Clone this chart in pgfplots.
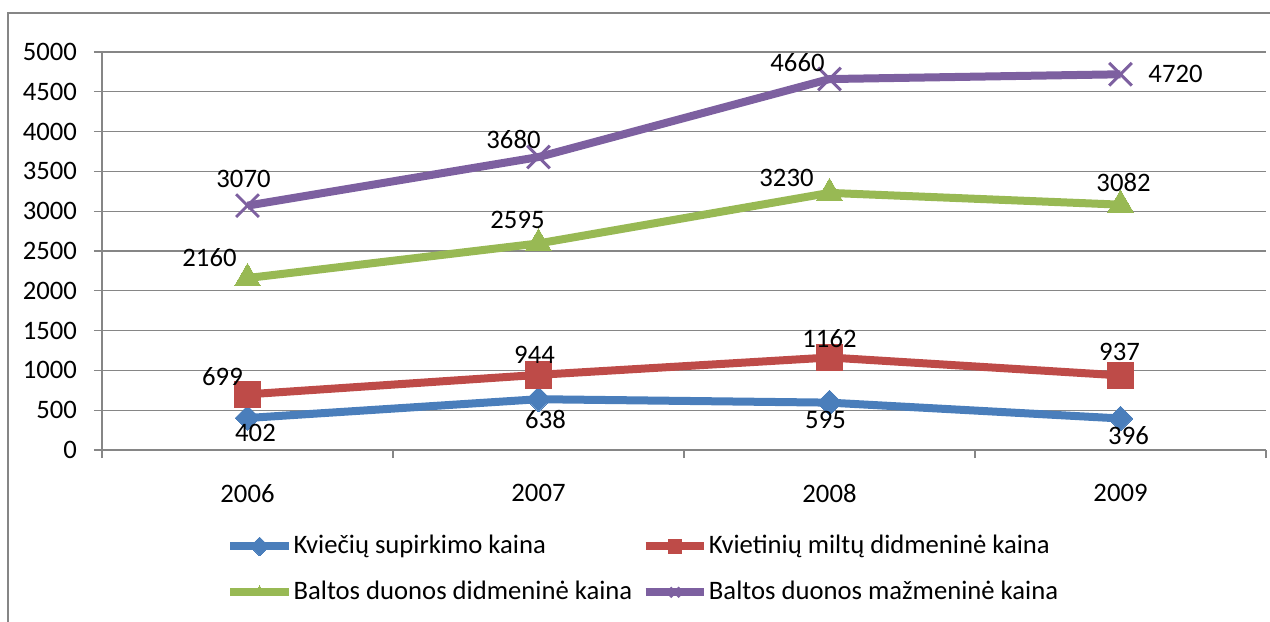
\documentclass[border=0pt]{standalone}
\usepackage{pgfplots}
\pgfplotsset{compat=1.18}
\usepackage{pgfplotstable}
\usepackage{fontspec}
\setmainfont{Carlito}
\definecolor{cblue}{HTML}{4A7EBB}
\definecolor{cred}{HTML}{BE4B48}
\definecolor{cgreen}{HTML}{98B954}
\definecolor{cpurple}{HTML}{7D60A0}
\definecolor{gridgray}{HTML}{868686}

\pgfplotstableread{
x y dx dy lab
0 402 8 -15 402
1 638 7 -20 638
2 595 -4 -17 595
3 396 8 -17 396
}\tblue
\pgfplotstableread{
x y dx dy lab
0 699 -25 18 699
1 944 -4 20 944
2 1162 0 19 1162
3 937 -1 23 937
}\tred
\pgfplotstableread{
x y dx dy lab
0 2160 -38 20 2160
1 2595 -21 23 2595
2 3230 -43 15 3230
3 3082 3 22 3082
}\tgreen
\pgfplotstableread{
x y dx dy lab
0 3070 -4 27 3070
1 3680 -25 18 3680
2 4660 -32 16 4660
3 4720 55 0 4720
}\tpurple

\begin{document}
\fontsize{20pt}{24pt}\selectfont
\begin{tikzpicture}[x=0.75pt,y=0.75pt]
\useasboundingbox (0,0) rectangle (1270,621);
\draw[gridgray, line width=1.5pt] (8,-5) -- (8,608) -- (1275,608);
\begin{axis}[
  at={(76.5pt,128.25pt)}, anchor=south west,
  scale only axis, width=873pt, height=298.5pt,
  xmin=-0.5, xmax=3.5, ymin=0, ymax=5000,
  axis x line*=bottom, axis y line*=left,
  axis line style={-, draw=gridgray, line width=1pt},
  xtick={0,1,2,3}, xticklabels={2006,2007,2008,2009},
  minor xtick={-0.5,0.5,1.5,2.5,3.5},
  major x tick style={draw=none},
  ytick distance=500,
  tick align=outside, major tick length=6pt, minor tick length=6pt,
  tick style={gridgray, line width=1pt},
  ymajorgrids, grid style={gridgray, line width=1pt},
  /pgf/number format/assume math mode=true,
  /pgf/number format/1000 sep={},
  tick label style={font=\fontsize{20pt}{24pt}\selectfont},
  xticklabel style={yshift=-13pt},
  yticklabel style={xshift=-6pt},
  point meta=explicit symbolic,
  nodes near coords,
  visualization depends on={\thisrow{dx} \as \dx},
  visualization depends on={\thisrow{dy} \as \dy},
  every node near coord/.style={anchor=center, xshift=\dx*0.75pt, yshift=\dy*0.75pt, font=\fontsize{20pt}{24pt}\selectfont, text=black},
  legend columns=2,
  legend cell align=left,
  legend style={at={(0.1031,-0.20)}, anchor=north west, draw=none, fill=none,
    font=\fontsize{20pt}{24pt}\selectfont, row sep=13.5pt,
    nodes={inner xsep=0.5pt},
    /tikz/every even column/.append style={column sep=6.5pt}},
  legend image code/.code={\draw[mark repeat=2,mark phase=2,#1, mark size=5pt] plot coordinates {(0pt,0pt) (22pt,0pt) (44pt,0pt)};},
]
\addplot[cblue, line width=6pt, line join=round, mark=square*, mark size=6.6pt, mark options={rotate=45, line width=0pt, fill=cblue}] table[x=x,y=y,meta=lab] {\tblue};
\addlegendentry{Kviečių supirkimo kaina}
\addplot[cred, line width=6pt, line join=round, mark=square*, mark size=10pt, mark options={line width=0pt, fill=cred}] table[x=x,y=y,meta=lab] {\tred};
\addlegendentry{Kvietinių miltų didmeninė kaina}
\addplot[cgreen, line width=6pt, line join=round, mark=triangle*, mark size=11pt, mark options={line width=0pt, fill=cgreen}] table[x=x,y=y,meta=lab] {\tgreen};
\addlegendentry{Baltos duonos didmeninė kaina}
\addplot[cpurple, line width=6pt, line join=round, mark=x, mark size=12pt, mark options={line width=2.2pt}] table[x=x,y=y,meta=lab] {\tpurple};
\addlegendentry{Baltos duonos mažmeninė kaina}
\end{axis}
\end{tikzpicture}
\end{document}
